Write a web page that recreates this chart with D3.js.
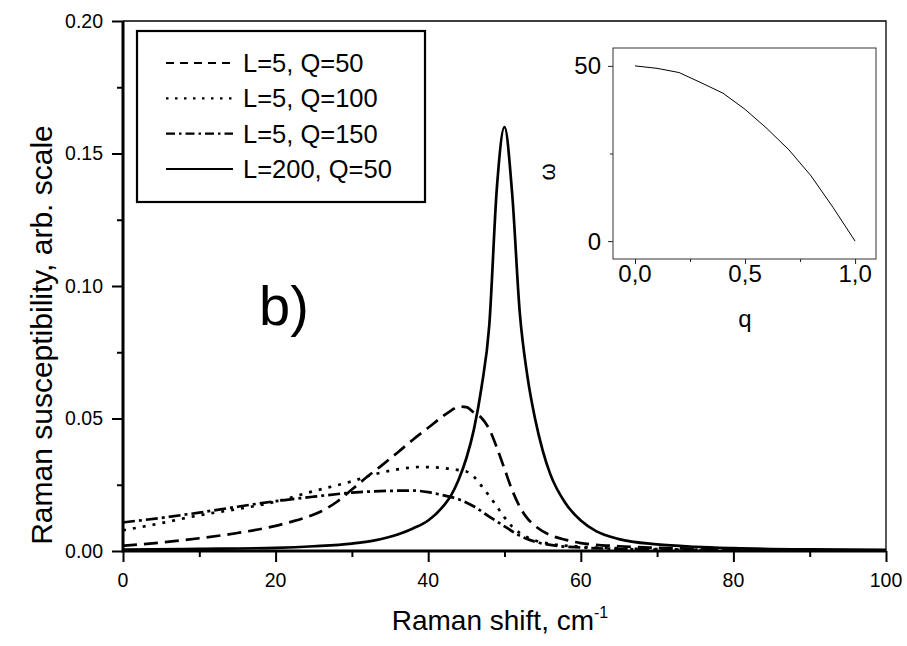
<!DOCTYPE html>
<html><head><meta charset="utf-8">
<script src="https://cdn.jsdelivr.net/npm/d3@7"></script>
<style>
html,body{margin:0;padding:0;background:#fff;}
svg{display:block;font-family:"Liberation Sans",Arial,sans-serif;}
</style></head>
<body><svg id="chart" width="907" height="646"></svg>
<script>
// ---- data ----
const seriesNames = ["L=5, Q=50", "L=5, Q=100", "L=5, Q=150", "L=200, Q=50"];
const dashedQ50 = [[0,0.002],[5,0.0032],[10,0.0048],[15,0.0068],[20,0.0095],[22,0.011],[24,0.0127],[26,0.015],[28,0.0185],[30,0.0232],[32,0.028],[34,0.0325],[36,0.0372],[38,0.042],[40,0.0465],[42,0.051],[43,0.053],[44,0.0545],[45,0.0543],[46,0.0522],[47,0.0502],[48,0.046],[49,0.039],[50,0.031],[51,0.023],[52,0.0167],[53,0.0123],[54,0.0095],[56,0.006],[58,0.0042],[60,0.003],[65,0.0018],[70,0.0012],[80,0.0006],[90,0.0003],[100,0.0002]];
const dottedQ100 = [[0,0.0078],[5,0.0105],[10,0.0135],[15,0.0158],[20,0.0186],[25,0.0226],[30,0.0263],[33,0.029],[36,0.0308],[39,0.0317],[42,0.0313],[44,0.0305],[45,0.030],[46,0.028],[47,0.0245],[48,0.0208],[49,0.0168],[50,0.0127],[51,0.0092],[52,0.0068],[54,0.0040],[56,0.0027],[60,0.0016],[65,0.001],[70,0.0007],[80,0.0004],[100,0.0002]];
const dashDotQ150 = [[0,0.0108],[5,0.0125],[10,0.0145],[15,0.0167],[20,0.0188],[25,0.0205],[30,0.022],[35,0.0227],[38,0.0228],[40,0.0222],[42,0.021],[44,0.0195],[46,0.0168],[48,0.013],[50,0.0093],[52,0.0058],[54,0.0035],[56,0.0023],[60,0.0013],[65,0.0008],[70,0.0005],[80,0.0003],[100,0.0002]];
const solidL200 = [[0,0.0005],[10,0.0008],[20,0.0012],[25,0.0018],[30,0.0028],[33,0.004],[36,0.0062],[38,0.0085],[40,0.0115],[42,0.017],[43,0.021],[44,0.027],[45,0.035],[46,0.046],[47,0.062],[48,0.085],[49,0.137],[50,0.160],[51,0.135],[52,0.090],[53,0.066],[54,0.050],[55,0.038],[56,0.029],[58,0.018],[60,0.0115],[62,0.0075],[65,0.0045],[70,0.0025],[75,0.0016],[80,0.0011],[90,0.0006],[100,0.0004]];
const xTicks = [0,20,40,60,80,100];
const yTicks = [0,0.05,0.10,0.15,0.20];
const yTickLabels = ["0.00","0.05","0.10","0.15","0.20"];
// inset: dispersion omega(q)
const insetQ = [0,0.1,0.2,0.3,0.4,0.5,0.6,0.7,0.8,0.9,1.0];
const insetOmega = [50,49.3,48.1,45.2,42.2,37.6,32.1,26,18.6,9.6,0];
const insetXTicks = [0,0.5,1.0];
const insetXTickLabels = ["0,0","0,5","1,0"];
const insetYTicks = [0,50];

// ---- layout ----
const svg = d3.select("#chart");
const L = 123, R = 886, T = 21, B = 551;
const x = d3.scaleLinear().domain([0,100]).range([L,R]);
const y = d3.scaleLinear().domain([0,0.20]).range([B,T]);

// frame (top & right thin)
svg.append("path").attr("d",`M${L},${T}H${R}V${B}`).attr("fill","none").attr("stroke","#000").attr("stroke-width",1.3);

// axes
function styleAxis(g){ g.select(".domain").remove(); g.selectAll("line").attr("stroke","#000").attr("stroke-width",2); }
const gx = svg.append("g").attr("transform",`translate(0,${B})`)
  .call(d3.axisBottom(x).tickValues(d3.range(0,101,10)).tickSize(6).tickFormat(""));
styleAxis(gx);
gx.selectAll(".tick line").filter(d=>d%20===0).attr("y2",11);
const gy = svg.append("g").attr("transform",`translate(${L},0)`)
  .call(d3.axisLeft(y).tickValues(d3.range(0,0.2001,0.025)).tickSize(6).tickFormat(""));
styleAxis(gy);
gy.selectAll(".tick line").filter((d,i)=>i%2===0).attr("x2",-11);
svg.append("line").attr("x1",L).attr("x2",R).attr("y1",B).attr("y2",B).attr("stroke","#000").attr("stroke-width",3);
svg.append("line").attr("x1",L).attr("x2",L).attr("y1",T).attr("y2",B+1.5).attr("stroke","#000").attr("stroke-width",3);

// tick labels
svg.append("g").selectAll("text").data(xTicks).join("text")
  .attr("x",d=>x(d)).attr("y",587).attr("text-anchor","middle").attr("font-size",19.5).text(d=>d);
svg.append("g").selectAll("text").data(yTicks).join("text")
  .attr("x",L-20).attr("y",d=>y(d)+6.8).attr("text-anchor","end").attr("font-size",19.5).text((d,i)=>yTickLabels[i]);

// axis titles
const xt = svg.append("text").attr("x",500).attr("y",630).attr("text-anchor","middle").attr("font-size",28);
xt.append("tspan").text("Raman shift, cm");
xt.append("tspan").attr("dy",-12).attr("font-size",16).text("-1");
svg.append("text").attr("transform",`translate(52,335) rotate(-90)`).attr("text-anchor","middle").attr("font-size",30)
  .text("Raman susceptibility, arb. scale");

// curves
const line = d3.line().x(d=>x(d[0])).y(d=>y(d[1])).curve(d3.curveMonotoneX);
const styles = [
  {data:dashedQ50, dash:"14,7", ldash:"8,6"},
  {data:dottedQ100, dash:"3,7", ldash:"2.5,6.5"},
  {data:dashDotQ150, dash:"12,4,3,4", ldash:"9,4,2.5,4"},
  {data:solidL200, dash:null, ldash:null}
];
const gc = svg.append("g");
styles.forEach(s=>{
  gc.append("path").attr("d",line(s.data)).attr("fill","none").attr("stroke","#000")
    .attr("stroke-width",2.7).attr("stroke-dasharray",s.dash);
});

// legend
const lg = svg.append("g");
lg.append("rect").attr("x",137).attr("y",31).attr("width",288).attr("height",171).attr("fill","#fff").attr("stroke","#000").attr("stroke-width",2.2);
const legY = d3.scaleLinear().domain([0,3]).range([63,169]);
seriesNames.forEach((n,i)=>{
  lg.append("line").attr("x1",166).attr("x2",233).attr("y1",legY(i)).attr("y2",legY(i))
    .attr("stroke","#000").attr("stroke-width",2.2).attr("stroke-dasharray",styles[i].ldash);
  lg.append("text").attr("x",243).attr("y",legY(i)+9).attr("font-size",25.5).text(n);
});

// "b)" label
svg.append("text").attr("x",259).attr("y",325).attr("font-size",56).text("b)");

// inset
const ix = d3.scaleLinear().domain([-0.1,1.095]).range([613,876]);
const iy = d3.scaleLinear().domain([-5.1,55.1]).range([259,48]);
const ig = svg.append("g");
ig.append("rect").attr("x",613).attr("y",48).attr("width",263).attr("height",211).attr("fill","#fff").attr("stroke","#333").attr("stroke-width",1);
const igx = ig.append("g").attr("transform","translate(0,259)")
  .call(d3.axisBottom(ix).tickValues([0,0.25,0.5,0.75,1]).tickSize(3).tickFormat(""));
igx.select(".domain").remove();
igx.selectAll("line").attr("stroke","#222");
igx.selectAll(".tick line").filter(d=>d===0||d===0.5||d===1).attr("y2",5);
const igy = ig.append("g").attr("transform","translate(613,0)")
  .call(d3.axisLeft(iy).tickValues([0,25,50]).tickSize(3).tickFormat(""));
igy.select(".domain").remove();
igy.selectAll("line").attr("stroke","#222");
igy.selectAll(".tick line").filter(d=>d!==25).attr("x2",-5);
ig.selectAll("text.ixl").data(insetXTicks).join("text").attr("class","ixl")
  .attr("x",d=>ix(d)).attr("y",282).attr("text-anchor","middle").attr("font-size",24).text((d,i)=>insetXTickLabels[i]);
ig.selectAll("text.iyl").data(insetYTicks).join("text").attr("class","iyl")
  .attr("x",601).attr("y",d=>iy(d)+8.5).attr("text-anchor","end").attr("font-size",24).text(d=>d);
ig.append("text").attr("x",745).attr("y",327).attr("text-anchor","middle").attr("font-size",24).text("q");
ig.append("text").attr("transform","translate(555,172) rotate(-90)").attr("text-anchor","middle").attr("font-size",22).text("ω");
const iline = d3.line().x((d,i)=>ix(insetQ[i])).y(d=>iy(d));
ig.append("path").attr("d",iline(insetOmega)).attr("fill","none").attr("stroke","#000").attr("stroke-width",1);
</script></body></html>
